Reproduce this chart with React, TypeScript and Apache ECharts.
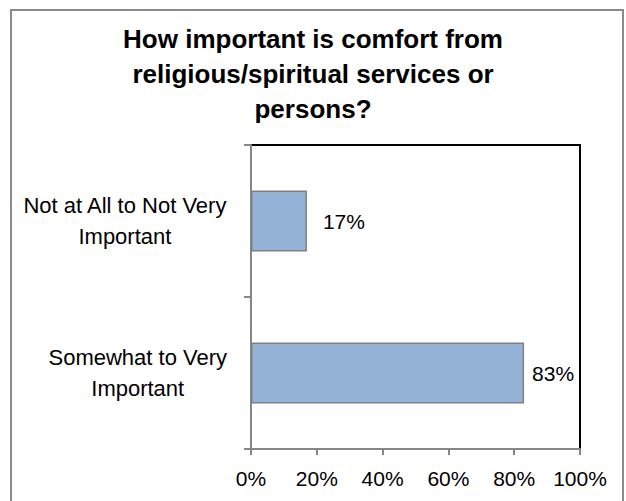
import React, { useEffect, useRef } from "react";
import * as echarts from "echarts";

const titleText = "How important is comfort from\nreligious/spiritual services or\npersons?";
const categories = ["Not at All to Not Very\nImportant", "Somewhat to Very\nImportant"];
const values = [17, 83];
const labelGaps = [16, 8];
const xTicks = [0, 20, 40, 60, 80, 100];

export default function App() {
  const ref = useRef<HTMLDivElement>(null);
  useEffect(() => {
    if (!ref.current) return;
    const chart = echarts.init(ref.current, null, { renderer: "svg" });
    const font = "'Liberation Sans', Arial, sans-serif";
    chart.setOption({
      animation: false,
      backgroundColor: "#ffffff",
      title: {
        text: titleText,
        left: "center",
        top: 21,
        padding: 0,
        textStyle: {
          fontFamily: font,
          fontWeight: "bold",
          fontSize: 26,
          lineHeight: 35,
          color: "#000000",
        },
      },
      graphic: [
        {
          type: "rect",
          shape: { x: 11, y: 10, width: 612, height: 520 },
          style: { fill: "none", stroke: "#8a8a8a", lineWidth: 2 },
          silent: true,
          z: 100,
        },
      ],
      grid: {
        left: 251,
        right: 46,
        top: 145,
        bottom: 52,
        show: true,
        borderColor: "#000000",
        borderWidth: 2,
        backgroundColor: "#ffffff",
        containLabel: false,
        outerBoundsMode: "none",
      },
      xAxis: {
        type: "value",
        min: xTicks[0],
        max: xTicks[xTicks.length - 1],
        interval: 20,
        splitLine: { show: false },
        axisLine: { show: true, lineStyle: { color: "#868686", width: 2 } },
        axisTick: { show: true, length: 6, lineStyle: { color: "#868686", width: 2 } },
        axisLabel: {
          formatter: (v: number) => v + "%",
          fontFamily: font,
          fontSize: 21,
          color: "#000000",
          margin: 19,
        },
      },
      yAxis: {
        type: "category",
        data: categories,
        inverse: true,
        axisLine: { show: true, lineStyle: { color: "#868686", width: 2 } },
        axisTick: { show: true, length: 7, inside: false, lineStyle: { color: "#868686", width: 2 } },
        axisLabel: {
          margin: 24,
          align: "right",
          formatter: (v: string) =>
            v.split("\n").map((s) => "{c|" + s + "}").join("\n"),
          rich: {
            c: {
              align: "center",
              fontFamily: font,
              fontSize: 22,
              lineHeight: 31,
              color: "#000000",
            },
          },
        },
      },
      series: [
        {
          type: "bar",
          barWidth: "40%",
          data: values.map((v, i) => ({
            value: v,
            label: { distance: labelGaps[i] },
          })),
          itemStyle: {
            color: "#95b3d7",
            borderColor: "#808080",
            borderWidth: 1.5,
          },
          label: {
            show: true,
            position: "right",
            formatter: (p: any) => p.value + "%",
            fontFamily: font,
            fontSize: 21,
            color: "#000000",
          },
        },
      ],
    });
    return () => chart.dispose();
  }, []);
  return <div ref={ref} style={{ width: 626, height: 501, position: "absolute", left: 0, top: 0 }} />;
}
